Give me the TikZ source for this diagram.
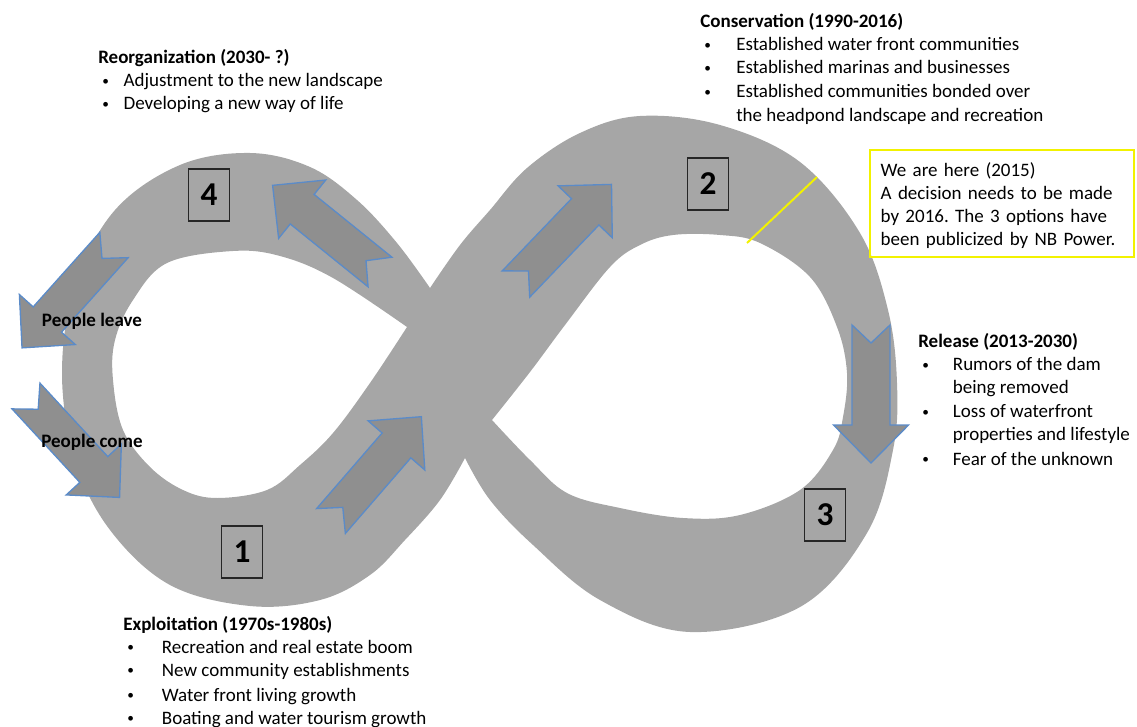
\documentclass[tikz,border=0pt]{standalone}
\usepackage{xcolor}
\usepackage{fontspec}
\setmainfont{Carlito}
\frenchspacing

\definecolor{bandgray}{HTML}{A6A6A6}
\definecolor{arrowgray}{HTML}{8F8F8F}
\definecolor{arrowblue}{HTML}{5B8BC8}
\definecolor{hereyellow}{HTML}{F2F200}

% bullet with a given indent
\newcommand{\itm}[1]{\hspace*{3pt}\makebox[#1][l]{\raisebox{0.8pt}{\fontsize{10}{10}\selectfont •}}}

\begin{document}
\begin{tikzpicture}[x=0.75pt,y=-0.75pt]
%style for text blocks (anchored at the baseline of the last line)
\tikzstyle{txt} = [anchor=base west, inner sep=0pt, align=left, font=\fontsize{14.25}{17.25}\selectfont]

%style for numbered stage box
\tikzstyle{numbox} = [rectangle, fill=bandgray, draw=black!85, line width=1.1pt, minimum width=31pt, minimum height=39pt, font=\bfseries\fontsize{25}{25}\selectfont]

%style for the "we are here" box
\tikzstyle{herebox} = [rectangle, draw=hereyellow, line width=1.5pt, minimum width=198pt, minimum height=80pt, text width=182pt, inner xsep=8pt, align=left, font=\fontsize{14.25}{17.25}\selectfont]

%style for notched arrows
\tikzstyle{arrowshape} = [fill=arrowgray, draw=arrowblue, line width=1pt, line join=miter]
\tikzset{notcharrow/.pic={
  \filldraw[arrowshape] (0,-19) -- (100,-19) -- (100,-37.5) -- (138,0) -- (100,37.5) -- (100,19) -- (0,19) -- (18,0) -- cycle;
}}

\useasboundingbox (0,0) rectangle (1137,727);

%infinity band
\fill[bandgray, even odd rule]
  plot[smooth, tension=0.6] coordinates {(430,288) (397,243) (357,200) (310,167) (250,153) (180,165) (115,210) (75,285) (62,373) (75,460) (110,530) (170,585) (250,606) (320,600) (370,575) (405,540) (440,500) (465,458)}
  -- plot[smooth, tension=0.6] coordinates {(465,458) (490,500) (533,545) (600,600) (690,632) (800,607) (867,533) (893,450) (897,383) (888,310) (860,233) (800,162) (720,125) (640,116) (580,133) (527,168) (490,210) (460,245) (430,288)} -- cycle
  plot[smooth, tension=0.6] coordinates {(407,327) (333,278) (280,256) (233,251) (167,263) (133,300) (115,340) (113,380) (123,430) (150,467) (183,490) (217,498) (267,490) (300,465) (333,433) (370,383) (407,327)} -- cycle
  plot[smooth, tension=0.6] coordinates {(492,420) (530,372) (565,325) (610,267) (640,245) (673,235) (720,235) (760,243) (810,277) (837,327) (847,373) (843,417) (833,450) (800,490) (740,515) (683,518) (620,508) (567,493) (530,460) (492,420)} -- cycle;

%we are here mark
\coordinate (hereIn) at (747,243);
\coordinate (hereOut) at (817,177);
\draw[hereyellow, line width=1.5pt] (hereIn) -- (hereOut);

%place arrows
\pic[rotate=141.1] at (380,272) {notcharrow};
\pic[rotate=49.1] at (331,521) {notcharrow};
\pic[rotate=46.2] at (516,284) {notcharrow};
\pic[rotate=-90] at (871,325) {notcharrow};
\pic[rotate=228.2] at (114,245) {notcharrow};
\pic[rotate=-47.3] at (26,396) {notcharrow};

%place nodes
\node[numbox] (stage4) at (209,195) {4};
\node[numbox] (stage1) at (242,552) {1};
\node[numbox] (stage2) at (708,184) {2};
\node[numbox] (stage3) at (825,515) {3};

\node[txt] (reorg) at (98,110) {\textbf{Reorganization (2030- ?)}\\
\itm{16pt}Adjustment to the new landscape\\
\itm{16pt}Developing a new way of life};

\node[txt] (conserv) at (700,122) {\textbf{Conservation (1990-2016)}\\
\itm{24pt}Established water front communities\\
\itm{24pt}Established marinas and businesses\\[1pt]
\itm{24pt}Established communities bonded over\\[1pt]
\hspace*{27pt}the headpond landscape and recreation};

\node[herebox] (here) at (1002,203.5) {\rule{0pt}{13pt}We are here (2015)\\
A decision needs to be made\\
by 2016. The 3 options have\\
been publicized by NB Power.};

\node[txt] (release) at (918,465) {\textbf{Release (2013-2030)}\\
\itm{23pt}Rumors of the dam\\
\hspace*{26pt}being removed\\[1pt]
\itm{23pt}Loss of waterfront\\
\hspace*{26pt}properties and lifestyle\\[1pt]
\itm{23pt}Fear of the unknown};

\node[txt] (exploit) at (123,724) {\textbf{Exploitation (1970s-1980s)}\\
\itm{26pt}Recreation and real estate boom\\
\itm{26pt}New community establishments\\[1.5pt]
\itm{26pt}Water front living growth\\
\itm{26pt}Boating and water tourism growth};

\node[font=\bfseries\fontsize{14.25}{17.25}\selectfont, inner sep=0pt] (leave) at (92,321) {People leave};
\node[font=\bfseries\fontsize{14.25}{17.25}\selectfont, inner sep=0pt] (come) at (92,442) {People come};
\end{tikzpicture}
\end{document}
